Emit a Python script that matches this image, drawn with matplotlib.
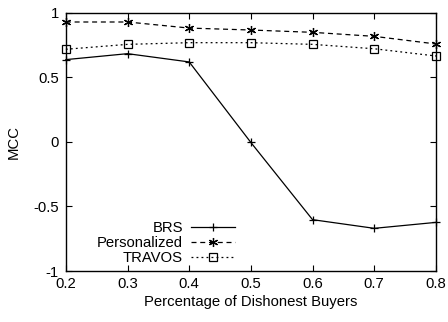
import matplotlib
matplotlib.use("Agg")
import matplotlib.pyplot as plt

plt.rcParams['font.family'] = ['Liberation Sans', 'DejaVu Sans']
plt.rcParams['axes.unicode_minus'] = False

# Data
x = [0.2, 0.3, 0.4, 0.5, 0.6, 0.7, 0.8]
brs = [0.636, 0.682, 0.618, -0.005, -0.602, -0.669, -0.623]
personalized = [0.927, 0.927, 0.880, 0.865, 0.847, 0.816, 0.757]
travos = [0.716, 0.754, 0.767, 0.767, 0.754, 0.720, 0.664]

xticks = [0.2, 0.3, 0.4, 0.5, 0.6, 0.7, 0.8]
yticks = [-1, -0.5, 0, 0.5, 1]
ytick_labels = ["-1", "-0.5", "0", "0.5", "1"]

fs = 10.7

fig = plt.figure(figsize=(4.48, 3.22), dpi=100)
ax = fig.add_axes([0.147, 0.158, 0.826, 0.803])

ax.plot(x, brs, color="black", lw=0.9, marker="+", ms=6, mew=0.9,
        label="BRS", clip_on=False)
ax.plot(x, personalized, color="black", lw=0.9, ls=(0, (4, 3)),
        marker=(6, 2, 0), ms=6.5, mew=0.9, label="Personalized", clip_on=False)
ax.plot(x, travos, color="black", lw=0.9, ls=(0, (1.5, 2.5)),
        marker="s", ms=5.5, mfc="none", mew=0.9, label="TRAVOS", clip_on=False)

ax.set_xlim(0.2, 0.8)
ax.set_ylim(-1, 1)
ax.set_xticks(xticks)
ax.set_xticklabels([str(t) for t in xticks])
ax.set_yticks(yticks)
ax.set_yticklabels(ytick_labels)
ax.tick_params(direction="in", top=True, right=True, length=4, width=0.8,
               labelsize=fs)
ax.tick_params(axis="x", pad=4)
ax.tick_params(axis="y", pad=5)
for s in ax.spines.values():
    s.set_linewidth(1.0)

ax.set_xlabel("Percentage of Dishonest Buyers", fontsize=fs, labelpad=3)
ax.set_ylabel("MCC", fontsize=fs, labelpad=9)

leg = ax.legend(loc="lower left", bbox_to_anchor=(0.084, 0.022), markerfirst=False,
                frameon=False, fontsize=fs, handlelength=2.95, handletextpad=0.55,
                labelspacing=0.07, borderaxespad=0.0, borderpad=0.0)
for t in leg.get_texts():
    t.set_ha("right")
leg._legend_box.align = "right"

fig.savefig("out.png", dpi=100)
